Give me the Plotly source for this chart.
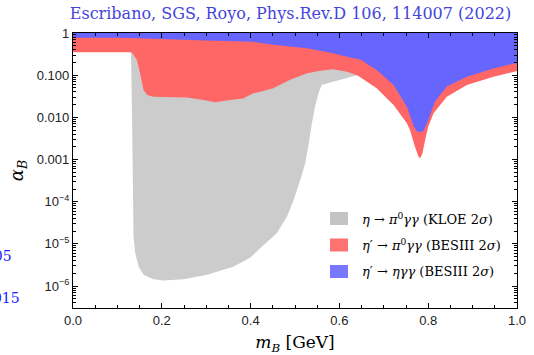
import plotly.graph_objects as go

# ---- data (mass in GeV, log10 of alpha_B bound) ----
red_m = [0.0, 0.128, 0.133, 0.144, 0.151, 0.159, 0.167, 0.181, 0.257, 0.294, 0.32, 0.354,
         0.383, 0.406, 0.422, 0.451, 0.489, 0.527, 0.557, 0.586, 0.617, 0.64, 0.684, 0.722,
         0.752, 0.759, 0.770, 0.778, 0.782, 0.787, 0.793, 0.800, 0.812, 0.842, 0.887, 0.947, 1.0]
red_log = [-0.455, -0.455, -0.467, -0.64, -0.955, -1.35, -1.47, -1.51, -1.53, -1.59, -1.64, -1.59,
           -1.55, -1.43, -1.39, -1.31, -1.11, -0.955, -0.893, -0.86, -0.92, -1.0, -1.31, -1.71,
           -2.14, -2.30, -2.69, -2.93, -2.97, -2.85, -2.54, -2.22, -1.90, -1.51, -1.23, -1.035, -0.9]

blue_m = [0.0, 0.107, 0.2, 0.3, 0.406, 0.451, 0.527, 0.586, 0.624, 0.647, 0.684, 0.722,
          0.752, 0.767, 0.774, 0.781, 0.789, 0.800, 0.815, 0.842, 0.887, 0.947, 1.0]
blue_log = [-0.115, -0.115, -0.14, -0.175, -0.21, -0.28, -0.36, -0.48, -0.58, -0.63, -0.88, -1.23,
            -1.75, -2.2, -2.33, -2.35, -2.33, -2.06, -1.63, -1.27, -1.035, -0.84, -0.71]

gray_m = [0.1300, 0.1305, 0.133, 0.1364, 0.140, 0.148, 0.159, 0.181, 0.204, 0.249, 0.302, 0.361,
          0.399, 0.422, 0.459, 0.482, 0.497, 0.512, 0.523, 0.530, 0.538, 0.545, 0.553, 0.560,
          0.602, 0.64]
gray_log = [0.0, -0.40, -1.98, -4.83, -5.21, -5.54, -5.73, -5.84, -5.87, -5.84, -5.73, -5.54,
            -5.33, -5.10, -4.75, -4.35, -3.96, -3.48, -3.09, -2.69, -2.14, -1.75, -1.43, -1.23,
            -1.11, -1.0]

y_tickvals = [1, 0.1, 0.01, 0.001, 1e-4, 1e-5, 1e-6]
y_ticktext = ["1", "0.100", "0.010", "0.001", "10<sup>\u22124</sup>", "10<sup>\u22125</sup>", "10<sup>\u22126</sup>"]
x_tickvals = [0.0, 0.2, 0.4, 0.6, 0.8, 1.0]
x_ticktext = ["0.0", "0.2", "0.4", "0.6", "0.8", "1.0"]

labels = ["<i>\u03b7</i> \u2192 <i>\u03c0</i><sup>0</sup><i>\u03b3\u03b3</i> (KLOE 2<i>\u03c3</i>)",
          "<i>\u03b7</i>\u2032 \u2192 <i>\u03c0</i><sup>0</sup><i>\u03b3\u03b3</i> (BESIII 2<i>\u03c3</i>)",
          "<i>\u03b7</i>\u2032 \u2192 <i>\u03b7\u03b3\u03b3</i> (BESIII 2<i>\u03c3</i>)"]
colors = ["#cccccc", "#ff6666", "#6666ff"]
swatch_colors = ["#c4c4c4", "#ff7272", "#7777ff"]

# plot-area geometry in pixels
W, H = 534, 355
L, R, T, B = 73, 17, 33, 47
PW, PH = W - L - R, H - T - B


def px(xp):
    return (xp - L) / PW


def py(yp):
    return (H - B - yp) / PH


def region(ms, logs):
    xs = list(ms) + [ms[-1], ms[0]]
    ys = [10 ** v for v in logs] + [1.5, 1.5]
    return xs, ys


fig = go.Figure()
for (ms, logs), lab, col in zip([(gray_m, gray_log), (red_m, red_log), (blue_m, blue_log)],
                                labels, colors):
    xs, ys = region(ms, logs)
    fig.add_trace(go.Scatter(x=xs, y=ys, mode="none", fill="toself", fillcolor=col,
                             name=lab, showlegend=False, hoverinfo="skip"))

# manual legend (square swatches + text)
shapes = []
annotations = []
for i, (lab, col) in enumerate(zip(labels, swatch_colors)):
    yc = 218.5 + 26.5 * i
    shapes.append(dict(type="rect", xref="paper", yref="paper",
                       x0=px(330), x1=px(348), y0=py(yc + 6.5), y1=py(yc - 6.5),
                       fillcolor=col, line=dict(width=0), layer="above"))
    annotations.append(dict(text=lab, xref="paper", yref="paper", x=px(360), y=py(yc),
                            xanchor="left", yanchor="middle", showarrow=False,
                            font=dict(family="DejaVu Serif, serif", size=13, color="black")))

annotations += [
    dict(text="2005", xref="paper", yref="paper", x=px(14), y=py(256),
         xanchor="right", yanchor="middle", showarrow=False,
         font=dict(family="DejaVu Serif, serif", size=14, color="#2222ff")),
    dict(text="2015", xref="paper", yref="paper", x=px(22), y=py(298),
         xanchor="right", yanchor="middle", showarrow=False,
         font=dict(family="DejaVu Serif, serif", size=14, color="#2222ff")),
]

# minor ticks
minor_y = [k * 10 ** d for d in range(-7, 0) for k in range(2, 10) if k * 10 ** d > 3e-7]

tickfont = dict(family="Liberation Sans, Arial, sans-serif", size=13, color="#222222")
fig.update_xaxes(range=[0, 1], tickvals=x_tickvals, ticktext=x_ticktext, ticks="inside",
                 ticklen=5, tickcolor="black", showline=True, linecolor="black", linewidth=1.3,
                 mirror="allticks", showgrid=False, zeroline=False, tickfont=tickfont,
                 automargin=False,
                 minor=dict(tickvals=[i * 0.05 for i in range(21)], ticks="inside", ticklen=3,
                            tickcolor="black", showgrid=False),
                 title=dict(text="<i>m</i><sub><i>B</i></sub> [GeV]",
                            font=dict(family="DejaVu Serif, serif", size=17, color="black"),
                            standoff=10))
fig.update_yaxes(type="log", range=[-6.52, 0], tickvals=y_tickvals, ticktext=y_ticktext,
                 ticks="inside", ticklen=5, tickcolor="black", showline=True, linecolor="black",
                 linewidth=1.3, mirror="allticks", showgrid=False, zeroline=False, tickfont=tickfont,
                 automargin=False,
                 minor=dict(tickvals=minor_y, ticks="inside", ticklen=3, tickcolor="black",
                            showgrid=False),
                 title=dict(text="<i>\u03b1</i><sub><i>B</i></sub>",
                            font=dict(family="DejaVu Serif, serif", size=18, color="black"),
                            standoff=8))

fig.update_layout(
    width=W, height=H,
    margin=dict(l=L, r=R, t=T, b=B),
    paper_bgcolor="white", plot_bgcolor="white",
    showlegend=False,
    title=dict(text="Escribano, SGS, Royo, Phys.Rev.D 106, 114007 (2022)",
               font=dict(family="DejaVu Serif, serif", size=16, color="#4444dd"),
               x=(63 + 518) / 2 / W, xanchor="center", y=1 - 13.5 / H, yanchor="middle"),
    shapes=shapes,
    annotations=annotations,
)

fig.write_html("out.html")
